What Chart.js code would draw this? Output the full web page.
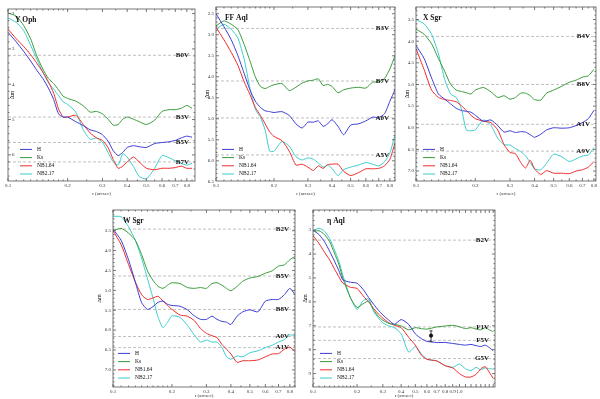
<!DOCTYPE html>
<html>
<head>
<meta charset="utf-8">
<script src="https://cdn.jsdelivr.net/npm/chart.js@4.4.1/dist/chart.umd.min.js"></script>
<style>
  html, body { margin: 0; padding: 0; background: #fff; }
  body { width: 600px; height: 399px; position: relative; overflow: hidden; }
  .panel { position: absolute; }
</style>
</head>
<body>
<div class="panel" id="p1"><canvas id="c1"></canvas></div>
<div class="panel" id="p2"><canvas id="c2"></canvas></div>
<div class="panel" id="p3"><canvas id="c3"></canvas></div>
<div class="panel" id="p4"><canvas id="c4"></canvas></div>
<div class="panel" id="p5"><canvas id="c5"></canvas></div>
<script>
// Separation grid (arcsec), shared by the first four stars
const rGrid = [0.1, 0.11, 0.12, 0.13, 0.14, 0.15, 0.16, 0.17, 0.18, 0.19, 0.2, 0.22, 0.24, 0.26, 0.28, 0.3,
               0.32, 0.34, 0.36, 0.38, 0.4, 0.43, 0.46, 0.5, 0.55, 0.6, 0.65, 0.7, 0.75, 0.8, 0.85];
const rEtaAql = [0.1, 0.11, 0.12, 0.13, 0.14, 0.15, 0.16, 0.18, 0.2, 0.22, 0.24, 0.26, 0.28, 0.3, 0.33, 0.36,
                 0.4, 0.45, 0.5, 0.55, 0.6, 0.7, 0.8, 0.9, 1.0, 1.1, 1.2, 1.3, 1.4, 1.5, 1.6, 1.7];

const xTicks = [0.1, 0.2, 0.3, 0.4, 0.5, 0.6, 0.7, 0.8];
const xTicksEtaAql = [0.1, 0.2, 0.3, 0.4, 0.5, 0.6, 0.7, 0.8, 0.9, 1.0];

// Y Oph
const hYOph = [2.53, 2.80, 3.07, 3.34, 3.61, 3.84, 4.11, 4.43, 4.84, 4.93, 4.93, 5.06, 5.17, 5.29, 5.34, 5.43,
               5.61, 5.88, 6.02, 5.93, 5.79, 5.74, 5.77, 5.79, 5.68, 5.65, 5.63, 5.59, 5.52, 5.47, 5.50];
const ksYOph = [1.98, 2.07, 2.34, 2.71, 3.21, 3.57, 3.84, 3.98, 4.16, 4.34, 4.40, 4.48, 4.61, 4.79, 4.77, 4.84,
                4.99, 5.16, 5.14, 4.99, 4.93, 4.99, 5.06, 5.14, 5.02, 4.77, 4.72, 4.72, 4.68, 4.60, 4.68];
const nb164YOph = [2.44, 2.71, 2.93, 3.16, 3.41, 3.66, 3.93, 4.25, 4.70, 4.93, 4.93, 4.88, 5.14, 5.38, 5.52, 5.59,
                   5.79, 6.13, 6.38, 6.32, 6.20, 6.06, 6.20, 6.38, 6.42, 6.38, 6.38, 6.36, 6.32, 6.38, 6.38];
const nb217YOph = [2.12, 2.25, 2.48, 2.89, 3.30, 3.66, 3.96, 4.14, 4.32, 4.50, 4.57, 4.79, 5.29, 5.56, 5.52, 5.65,
                   5.93, 6.20, 6.29, 5.97, 6.06, 6.33, 6.61, 6.68, 6.38, 6.02, 6.08, 6.17, 6.24, 6.29, 6.24];
const sptYOph = ['B0V', 'B3V', 'B5V', 'B7V'];
const dmSptYOph = [3.18, 4.93, 5.65, 6.20];
const yTicksYOph = [2, 3, 4, 5, 6];

// FF Aql
const hFFAql = [2.50, 2.81, 3.12, 3.50, 3.92, 4.31, 4.58, 4.73, 4.81, 4.83, 4.85, 4.83, 4.92, 5.12, 5.22, 5.08,
                5.08, 5.05, 5.18, 5.12, 5.02, 5.18, 5.38, 5.15, 5.12, 5.05, 4.96, 4.97, 4.88, 4.58, 4.31];
const ksFFAql = [2.79, 2.67, 2.75, 2.88, 3.23, 3.62, 4.00, 4.23, 4.28, 4.23, 4.19, 4.16, 4.33, 4.25, 4.15, 4.10,
                 4.08, 4.05, 4.21, 4.18, 4.23, 4.38, 4.31, 4.27, 4.25, 4.27, 4.13, 4.12, 4.04, 3.81, 3.50];
const nb164FFAql = [2.82, 3.12, 3.42, 3.73, 4.12, 4.42, 4.73, 4.92, 5.12, 5.31, 5.42, 5.52, 5.77, 6.10, 6.08, 6.15,
                    6.23, 6.12, 6.18, 6.09, 6.08, 6.08, 6.25, 6.35, 6.28, 6.19, 6.19, 6.18, 6.12, 5.96, 5.58];
const nb217FFAql = [2.87, 2.75, 2.87, 3.08, 3.58, 4.27, 4.77, 4.96, 5.27, 5.77, 5.77, 5.54, 5.65, 5.90, 5.98, 5.93,
                    5.96, 6.05, 6.15, 6.10, 6.18, 6.35, 6.21, 6.15, 6.10, 6.04, 6.08, 6.12, 6.02, 5.81, 5.38];
const sptFFAql = ['B3V', 'B7V', 'A0V', 'A5V'];
const dmSptFFAql = [2.85, 4.10, 4.98, 5.86];
const yTicksFFAql = [2.5, 3.0, 3.5, 4.0, 4.5, 5.0, 5.5, 6.0, 6.5];

// X Sgr
const hXSgr = [4.10, 4.40, 4.85, 5.22, 5.34, 5.45, 5.55, 5.60, 5.62, 5.64, 5.71, 5.85, 5.82, 5.95, 6.10, 6.07,
               6.11, 6.09, 6.10, 6.16, 6.22, 6.15, 6.05, 6.00, 6.01, 6.00, 5.95, 5.88, 5.79, 5.60, null];
const ksXSgr = [3.72, 3.84, 4.06, 4.40, 4.70, 5.00, 5.13, 5.16, 5.19, 5.22, 5.13, 5.07, 5.17, 5.30, 5.26, 5.34,
                5.30, 5.20, 5.20, 5.26, 5.35, 5.36, 5.20, 5.13, 5.04, 4.95, 4.90, 4.83, 4.80, 4.65, null];
const nb164XSgr = [4.17, 4.66, 5.13, 5.30, 5.35, 5.37, 5.40, 5.49, 5.60, 5.71, 5.79, 5.85, 5.88, 6.05, 6.39, 6.57,
                   6.60, 6.80, 6.93, 6.75, 6.95, 7.08, 6.99, 7.05, 7.05, 7.06, 7.00, 6.97, 6.91, 6.78, null];
const nb217XSgr = [3.50, 3.60, 3.84, 4.29, 4.89, 5.22, 5.30, 5.56, 6.05, 6.07, 6.05, 5.82, 5.94, 6.24, 6.39, 6.40,
                   6.48, 6.55, 6.65, 6.80, 6.95, 6.97, 6.82, 6.61, 6.67, 6.78, 6.72, 6.65, 6.63, 6.46, null];
const sptXSgr = ['B4V', 'B8V', 'A1V', 'A9V'];
const dmSptXSgr = [3.89, 5.00, 5.92, 6.54];
const yTicksXSgr = [3.5, 4.0, 4.5, 5.0, 5.5, 6.0, 6.5, 7.0];

// W Sgr
const hWSgr = [3.46, 3.74, 4.23, 4.79, 5.31, 5.48, 5.41, 5.30, 5.27, 5.35, 5.38, 5.40, 5.49, 5.64, 5.73, 5.73,
               5.65, 5.73, 5.78, 5.80, 5.86, 5.65, 5.54, 5.49, 5.54, 5.27, 5.23, 5.23, 5.11, 4.95, 5.11];
const ksWSgr = [3.50, 3.44, 3.56, 3.74, 4.10, 4.51, 4.75, 4.90, 4.95, 4.87, 4.81, 4.83, 4.93, 4.95, 4.93, 4.95,
                4.83, 4.81, 4.87, 4.95, 5.01, 4.90, 4.77, 4.69, 4.65, 4.57, 4.51, 4.39, 4.36, 4.23, 4.15];
const nb164WSgr = [3.50, 3.85, 4.35, 4.79, 5.11, 5.23, 5.19, 5.15, 5.27, 5.38, 5.48, 5.62, 5.65, 5.76, 5.96, 6.08,
                   6.14, 6.19, 6.36, 6.48, 6.60, 6.81, 6.77, 6.77, 6.75, 6.67, 6.60, 6.59, 6.48, 6.43, 6.54];
const nb217WSgr = [3.14, 3.15, 3.40, 3.74, 4.19, 4.71, 5.19, 5.68, 5.94, 5.80, 5.64, 5.68, 5.88, 6.12, 6.30, 6.25,
                   6.30, 6.30, 6.44, 6.67, 6.73, 6.65, 6.67, 6.57, 6.52, 6.44, 6.38, 6.30, 6.24, 6.12, 6.14];
const sptWSgr = ['B2V', 'B5V', 'B8V', 'A0V', 'A1V'];
const dmSptWSgr = [3.46, 4.64, 5.48, 6.16, 6.44];
const yTicksWSgr = [3.5, 4.0, 4.5, 5.0, 5.5, 6.0, 6.5, 7.0];

// eta Aql
const hEtaAql = [3.00, 3.19, 3.49, 3.89, 4.29, 4.69, 5.08, 5.18, 5.22, 5.48, 5.82, 6.11, 6.35, 6.55, 6.77, 6.94,
                 6.74, 6.94, 7.34, 7.54, 7.65, 7.70, 7.70, 7.74, 7.78, 7.81, 7.78, 7.83, 7.87, 7.81, 7.91, 8.05];
const ksEtaAql = [3.05, 3.03, 3.19, 3.49, 3.96, 4.42, 5.02, 5.82, 6.24, 6.08, 5.97, 6.35, 6.61, 6.77, 6.90, 6.94,
                  7.01, 7.17, 7.08, 7.12, 7.14, 7.05, 7.01, 6.98, 7.04, 7.12, 7.08, 7.14, 7.17, 7.08, 7.17, 7.25];
const nb164EtaAql = [3.23, 3.56, 3.93, 4.25, 4.62, 4.95, 5.22, 5.39, 5.44, 5.75, 6.01, 6.28, 6.51, 6.68, 6.88, 6.98,
                     7.08, 7.48, 7.81, 8.23, 8.40, 8.47, 8.67, 8.76, 9.00, 9.14, 9.14, 9.03, 8.80, 8.71, 8.94, 9.20];
const nb217EtaAql = [3.03, 2.92, 3.05, 3.36, 3.82, 4.29, 4.89, 5.82, 6.32, 5.95, 5.88, 6.41, 6.68, 6.88, 7.01, 7.08,
                     7.34, 8.10, 7.87, 8.18, 8.40, 8.47, 8.67, 8.74, 8.60, 8.80, 8.87, 8.74, 8.84, 8.76, 8.80, 8.80];
const sptEtaAql = ['B2V', 'F1V', 'F5V', 'G5V'];
const dmSptEtaAql = [3.42, 7.05, 7.61, 8.37];
const yTicksEtaAql = [3, 4, 5, 6, 7, 8, 9];
// single measurement with error bar
const errR = [0.64];
const errDm = [7.41];
const errLo = [7.21];
const errHi = [7.65];

const SERIF = "'Liberation Serif', 'DejaVu Serif', serif";
const bandNames = ['H', 'Ks', 'NB1.64', 'NB2.17'];
const bandColors = ['#3a3ad4', '#389a38', '#f02a2a', '#3ccccc'];

// frame, inward ticks, reference lines, labels, legend
const decor = {
    id: 'decor',
    beforeDatasetsDraw(chart, args, o) {
        const { ctx, chartArea: a } = chart;
        const y = chart.scales.y;
        ctx.save();
        ctx.setLineDash([3, 2]);
        ctx.strokeStyle = '#b0b0b0';
        ctx.lineWidth = 0.8;
        o.dm.forEach(v => {
            const py = y.getPixelForValue(v);
            ctx.beginPath();
            ctx.moveTo(a.left, py);
            ctx.lineTo(a.right, py);
            ctx.stroke();
        });
        ctx.restore();
    },
    afterDatasetsDraw(chart, args, o) {
        const { ctx, chartArea: a } = chart;
        const x = chart.scales.x, y = chart.scales.y;
        ctx.save();

        // error bar (eta Aql)
        if (o.err) {
            ctx.strokeStyle = '#111';
            ctx.lineWidth = 0.8;
            o.err.r.forEach((r, i) => {
                const px = x.getPixelForValue(r);
                const y1 = y.getPixelForValue(o.err.lo[i]);
                const y2 = y.getPixelForValue(o.err.hi[i]);
                ctx.beginPath();
                ctx.moveTo(px, y1); ctx.lineTo(px, y2);
                ctx.moveTo(px - 1.5, y1); ctx.lineTo(px + 1.5, y1);
                ctx.moveTo(px - 1.5, y2); ctx.lineTo(px + 1.5, y2);
                ctx.stroke();
            });
        }

        // frame
        ctx.strokeStyle = '#555';
        ctx.lineWidth = 0.8;
        ctx.strokeRect(a.left, a.top, a.right - a.left, a.bottom - a.top);

        // y ticks (major + minor), both sides, pointing in
        const yt = y.ticks.map(t => t.value);
        const step = (yt[1] - yt[0]) / 5;
        ctx.beginPath();
        for (let v = yt[0] - 10 * step; v <= y.max + 1e-9; v += step) {
            if (v < y.min) continue;
            const py = y.getPixelForValue(v);
            const major = yt.some(t => Math.abs(t - v) < step / 10);
            const len = major ? 3 : 1.5;
            ctx.moveTo(a.left, py); ctx.lineTo(a.left + len, py);
            ctx.moveTo(a.right, py); ctx.lineTo(a.right - len, py);
        }
        // x ticks
        for (let k = 10; k <= Math.floor(x.max * 100); k++) {
            if (k > 20 && k % 5) continue;
            if (k > 100 && k % 10) continue;
            const px = x.getPixelForValue(k / 100);
            const len = k % 10 === 0 ? 3 : 1.5;
            ctx.moveTo(px, a.bottom); ctx.lineTo(px, a.bottom - len);
            ctx.moveTo(px, a.top); ctx.lineTo(px, a.top + len);
        }
        ctx.stroke();

        // spectral type labels
        ctx.fillStyle = '#111';
        ctx.font = `bold 7px ${SERIF}`;
        ctx.textAlign = 'right';
        ctx.textBaseline = 'middle';
        o.spt.forEach((s, i) => ctx.fillText(s, a.right - 6, y.getPixelForValue(o.dm[i])));

        // star name
        ctx.textAlign = 'left';
        ctx.font = `bold 7.5px ${SERIF}`;
        ctx.fillText(o.title, a.left + o.titleX, a.top + 11);

        // y axis title
        ctx.save();
        ctx.font = `6px ${SERIF}`;
        ctx.translate(a.left + o.dmX, (a.top + a.bottom) / 2);
        ctx.rotate(-Math.PI / 2);
        ctx.textAlign = 'center';
        ctx.fillText('\u0394m', 0, 0);
        ctx.restore();

        // legend
        ctx.font = `5.5px ${SERIF}`;
        const lx = a.left + o.legX;
        chart.data.datasets.slice(0, 4).forEach((ds, k) => {
            const py = a.bottom - o.legB - (3 - k) * 8.2;
            ctx.strokeStyle = ds.borderColor;
            ctx.lineWidth = 1;
            ctx.beginPath();
            ctx.moveTo(lx, py); ctx.lineTo(lx + 12, py);
            ctx.stroke();
            ctx.fillStyle = '#111';
            ctx.fillText(ds.label, lx + 17, py);
        });
        ctx.restore();
    }
};
Chart.register(decor);

function makePanel(n, box, xMax, xt, yRange, yt, r, series, deco, extra) {
    const holder = document.getElementById('p' + n);
    holder.style.left = (box.left - box.padL) + 'px';
    holder.style.top = (box.top - 1) + 'px';
    holder.style.width = (box.right - box.left + box.padL + 1) + 'px';
    holder.style.height = (box.bottom - box.top + 1 + box.padB) + 'px';

    const datasets = series.map((vals, i) => ({
        label: bandNames[i],
        data: r.map((x, j) => ({ x: x, y: vals[j] })),
        borderColor: bandColors[i],
        borderWidth: 1,
        pointRadius: 0,
        tension: 0.2,
        fill: false
    }));
    if (extra) datasets.push(extra);

    const tickFont = { family: SERIF, size: 5 };
    return new Chart(document.getElementById('c' + n), {
        type: 'line',
        data: { datasets: datasets },
        options: {
            responsive: true,
            maintainAspectRatio: false,
            animation: false,
            layout: { padding: { top: 1, right: 1, left: 0, bottom: 0 } },
            plugins: { legend: { display: false }, tooltip: { enabled: false }, decor: deco },
            scales: {
                x: {
                    type: 'logarithmic',
                    min: 0.1,
                    max: xMax,
                    grid: { display: false, drawTicks: false },
                    border: { display: false },
                    afterBuildTicks: s => { s.ticks = xt.map(v => ({ value: v })); },
                    afterFit: s => { s.height = box.padB; },
                    ticks: {
                        font: tickFont, color: '#333', padding: 2, maxRotation: 0, autoSkip: false,
                        callback: v => Number(v).toFixed(1)
                    },
                    title: { display: true, text: 'r (arcsec)', font: { family: SERIF, size: 5 }, color: '#333', padding: { top: box.titleGap, bottom: 0 } }
                },
                y: {
                    type: 'linear',
                    reverse: true,
                    min: yRange[0],
                    max: yRange[1],
                    grid: { display: false, drawTicks: false },
                    border: { display: false },
                    afterBuildTicks: s => { s.ticks = yt.map(v => ({ value: v })); },
                    afterFit: s => { s.width = box.padL; },
                    ticks: {
                        font: tickFont, color: '#333', padding: box.mirror ? 4 : 2, mirror: !!box.mirror,
                        callback: v => box.fmt ? Number(v).toFixed(1) : String(v)
                    }
                }
            }
        }
    });
}

makePanel(1, { left: 8, top: 3, right: 195, bottom: 181, padL: 8, padB: 16, titleGap: 2, mirror: true },
    0.88, xTicks, [1.87, 6.74], yTicksYOph, rGrid,
    [hYOph, ksYOph, nb164YOph, nb217YOph],
    { title: 'Y Oph', titleX: 7, dmX: 4, legX: 12, legB: 7, spt: sptYOph, dm: dmSptYOph });

makePanel(2, { left: 216, top: 3, right: 395, bottom: 181, padL: 14, padB: 16, titleGap: 2, fmt: true },
    0.85, xTicks, [2.34, 6.48], yTicksFFAql, rGrid,
    [hFFAql, ksFFAql, nb164FFAql, nb217FFAql],
    { title: 'FF Aql', titleX: 9, dmX: -9, legX: 6, legB: 7, spt: sptFFAql, dm: dmSptFFAql });

makePanel(3, { left: 416, top: 3, right: 598, bottom: 181, padL: 14, padB: 16, titleGap: 2, fmt: true },
    0.82, xTicks, [3.21, 7.23], yTicksXSgr, rGrid,
    [hXSgr, ksXSgr, nb164XSgr, nb217XSgr],
    { title: 'X Sgr', titleX: 7, dmX: -9, legX: 7, legB: 7, spt: sptXSgr, dm: dmSptXSgr });

makePanel(4, { left: 113, top: 206, right: 295, bottom: 387, padL: 15, padB: 12, titleGap: 0, fmt: true },
    0.85, xTicks, [2.98, 7.43], yTicksWSgr, rGrid,
    [hWSgr, ksWSgr, nb164WSgr, nb217WSgr],
    { title: 'W Sgr', titleX: 10, dmX: -14, legX: 5, legB: 9, spt: sptWSgr, dm: dmSptWSgr });

makePanel(5, { left: 313, top: 206, right: 499, bottom: 387, padL: 12, padB: 12, titleGap: 0 },
    1.75, xTicksEtaAql, [2.16, 9.56], yTicksEtaAql, rEtaAql,
    [hEtaAql, ksEtaAql, nb164EtaAql, nb217EtaAql],
    { title: '\u03b7 Aql', titleX: 14, dmX: -8, legX: 7, legB: 9, spt: sptEtaAql, dm: dmSptEtaAql,
      err: { r: errR, lo: errLo, hi: errHi } },
    {
        label: 'point',
        data: errR.map((x, i) => ({ x: x, y: errDm[i] })),
        showLine: false,
        pointRadius: 1.6,
        pointBackgroundColor: '#111',
        pointBorderColor: '#111',
        borderColor: '#111'
    });
</script>
</body>
</html>
